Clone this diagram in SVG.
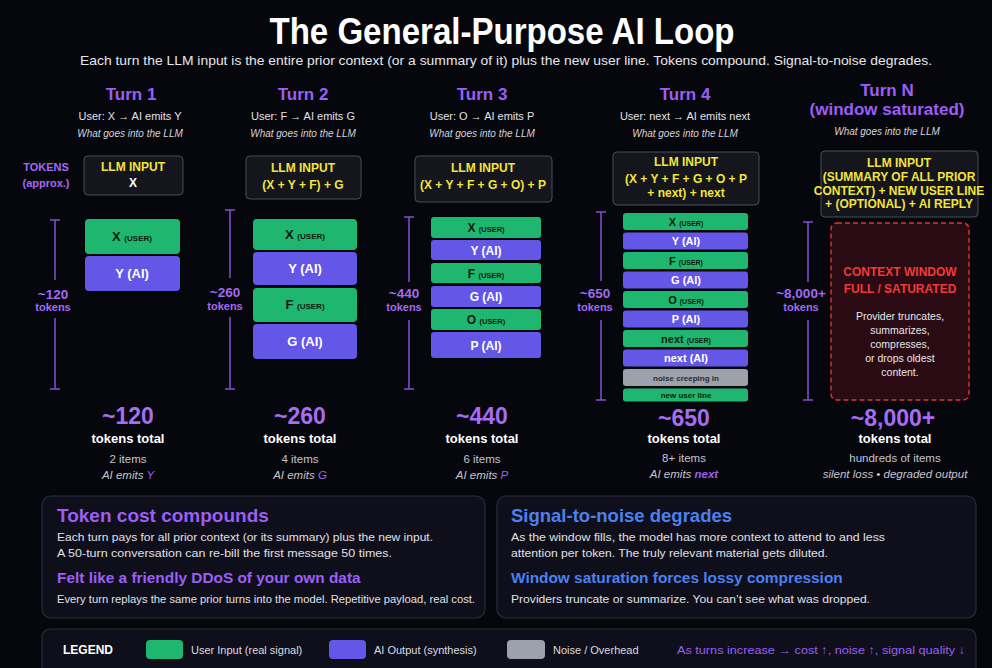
<svg xmlns="http://www.w3.org/2000/svg" width="992" height="668" viewBox="0 0 992 668">
<style>
text{font-family:"Liberation Sans",Arial,sans-serif}
.title{font-size:36px;font-weight:bold;fill:#fff}
.subtitle{font-size:13.5px;fill:#e6e6ea}
.turn{font-size:17px;font-weight:bold;fill:#9c5ef4}
.sub{font-size:11px;fill:#e2e2e6}
.what{font-size:10px;font-style:italic;fill:#d4d4da}
.llmbox{fill:#15161d;stroke:#4b4c57;stroke-width:1}
.llm{font-size:12px;font-weight:bold;fill:#f2e43c}
.llmw{font-size:12px;font-weight:bold;fill:#fff}
.user{fill:#1fb76f}
.ai{fill:#6456e6}
.noise{fill:#9ca1ab}
.ut{font-weight:bold;fill:#0c1a12}
.at{font-weight:bold;fill:#fff}
.nt{font-weight:bold;fill:#2a2d33}
.br{stroke:#8450d2;stroke-width:1.5;fill:none}
.tk{font-size:13.5px;font-weight:bold;fill:#a469f2}
.tk2{font-size:11px;font-weight:bold;fill:#a469f2}
.big{font-size:23px;font-weight:bold;fill:#a66cf4}
.tt{font-size:13px;font-weight:bold;fill:#fff}
.items{font-size:11.5px;fill:#c4c4cc}
.emit{font-size:11.5px;font-style:italic;fill:#c4c4cc}
.emk{fill:#9c5ef4}
.panel{fill:#0e0f1b;stroke:#2b2d3d;stroke-width:1.2}
.ph{font-size:19px;font-weight:bold;fill:#9c5ef4}
.ph2{font-size:15.4px;font-weight:bold;fill:#9c5ef4}
.bh{font-size:18.5px;font-weight:bold;fill:#4d80ee}
.bh2{font-size:15.4px;font-weight:bold;fill:#4d80ee}
.body{font-size:11.5px;fill:#e0e0e6}
.lg{font-size:11px;fill:#dcdce2}
</style>
<rect width="992" height="668" fill="#06060d"/>

<text class="title" x="502" y="44" text-anchor="middle" textLength="465" lengthAdjust="spacingAndGlyphs">The General-Purpose AI Loop</text>
<text class="subtitle" x="506" y="65" text-anchor="middle" textLength="852" lengthAdjust="spacingAndGlyphs">Each turn the LLM input is the entire prior context (or a summary of it) plus the new user line. Tokens compound. Signal-to-noise degrades.</text>

<g id="tokens-label">
<text class="tk2" x="46" y="171" text-anchor="middle">TOKENS</text>
<text class="tk2" x="46" y="187" text-anchor="middle" font-weight="normal">(approx.)</text>
</g>

<g id="turn1">
<text class="turn" x="131" y="100" text-anchor="middle">Turn 1</text>
<text class="sub" x="130" y="120" text-anchor="middle">User: X → AI emits Y</text>
<text class="what" x="130" y="137" text-anchor="middle">What goes into the LLM</text>
<rect class="llmbox" x="84" y="156" width="99" height="39" rx="4"/>
<text class="llm" x="133" y="171" text-anchor="middle">LLM INPUT</text>
<text class="llmw" x="133" y="187" text-anchor="middle">X</text>
<rect class="user" x="85" y="219" width="95" height="35" rx="4"/>
<text class="ut" x="132" y="241" text-anchor="middle" font-size="13">X <tspan font-size="8">(USER)</tspan></text>
<rect class="ai" x="85" y="256" width="95" height="35" rx="4"/>
<text class="at" x="132" y="278" text-anchor="middle" font-size="13">Y (AI)</text>
<text class="big" x="128" y="424" text-anchor="middle">~120</text>
<text class="tt" x="128" y="443" text-anchor="middle">tokens total</text>
<text class="items" x="128" y="463" text-anchor="middle">2 items</text>
<text class="emit" x="128" y="479" text-anchor="middle">AI emits <tspan class="emk">Y</tspan></text>
</g>

<g id="turn2">
<text class="turn" x="303" y="100" text-anchor="middle">Turn 2</text>
<text class="sub" x="303" y="120" text-anchor="middle">User: F → AI emits G</text>
<text class="what" x="303" y="137" text-anchor="middle">What goes into the LLM</text>
<rect class="llmbox" x="246" y="156" width="115" height="43" rx="4"/>
<text class="llm" x="303" y="172" text-anchor="middle">LLM INPUT</text>
<text class="llm" x="303" y="189" text-anchor="middle">(X + Y + F) + G</text>
<rect class="user" x="253" y="219" width="104" height="31" rx="4"/>
<text class="ut" x="305" y="239" text-anchor="middle" font-size="13">X <tspan font-size="8">(USER)</tspan></text>
<rect class="ai" x="253" y="252" width="104" height="33" rx="4"/>
<text class="at" x="305" y="273" text-anchor="middle" font-size="13">Y (AI)</text>
<rect class="user" x="253" y="288" width="104" height="34" rx="4"/>
<text class="ut" x="305" y="309" text-anchor="middle" font-size="13">F <tspan font-size="8">(USER)</tspan></text>
<rect class="ai" x="253" y="324" width="104" height="35" rx="4"/>
<text class="at" x="305" y="346" text-anchor="middle" font-size="13">G (AI)</text>
<text class="big" x="300" y="424" text-anchor="middle">~260</text>
<text class="tt" x="300" y="443" text-anchor="middle">tokens total</text>
<text class="items" x="300" y="463" text-anchor="middle">4 items</text>
<text class="emit" x="300" y="479" text-anchor="middle">AI emits <tspan class="emk">G</tspan></text>
</g>

<g id="turn3">
<text class="turn" x="482" y="100" text-anchor="middle">Turn 3</text>
<text class="sub" x="482" y="120" text-anchor="middle">User: O → AI emits P</text>
<text class="what" x="482" y="137" text-anchor="middle">What goes into the LLM</text>
<rect class="llmbox" x="415" y="156" width="137" height="46" rx="4"/>
<text class="llm" x="483" y="172" text-anchor="middle">LLM INPUT</text>
<text class="llm" x="483" y="189" text-anchor="middle">(X + Y + F + G + O) + P</text>
<rect class="user" x="431" y="217" width="110" height="21" rx="3"/>
<text class="ut" x="486" y="232" text-anchor="middle" font-size="12">X <tspan font-size="7.5">(USER)</tspan></text>
<rect class="ai" x="431" y="240" width="110" height="20" rx="3"/>
<text class="at" x="486" y="255" text-anchor="middle" font-size="12">Y (AI)</text>
<rect class="user" x="431" y="263" width="110" height="20" rx="3"/>
<text class="ut" x="486" y="278" text-anchor="middle" font-size="12">F <tspan font-size="7.5">(USER)</tspan></text>
<rect class="ai" x="431" y="286" width="110" height="21" rx="3"/>
<text class="at" x="486" y="301" text-anchor="middle" font-size="12">G (AI)</text>
<rect class="user" x="431" y="309" width="110" height="21" rx="3"/>
<text class="ut" x="486" y="324" text-anchor="middle" font-size="12">O <tspan font-size="7.5">(USER)</tspan></text>
<rect class="ai" x="431" y="332" width="110" height="26" rx="3"/>
<text class="at" x="486" y="350" text-anchor="middle" font-size="12">P (AI)</text>
<text class="big" x="482" y="424" text-anchor="middle">~440</text>
<text class="tt" x="482" y="443" text-anchor="middle">tokens total</text>
<text class="items" x="482" y="463" text-anchor="middle">6 items</text>
<text class="emit" x="482" y="479" text-anchor="middle">AI emits <tspan class="emk">P</tspan></text>
</g>

<g id="turn4">
<text class="turn" x="685" y="100" text-anchor="middle">Turn 4</text>
<text class="sub" x="685" y="120" text-anchor="middle">User: next → AI emits next</text>
<text class="what" x="685" y="137" text-anchor="middle">What goes into the LLM</text>
<rect class="llmbox" x="613" y="152" width="146" height="53" rx="4"/>
<text class="llm" x="686" y="166" text-anchor="middle">LLM INPUT</text>
<text class="llm" x="686" y="183" text-anchor="middle">(X + Y + F + G + O + P</text>
<text class="llm" x="686" y="197" text-anchor="middle">+ next) + next</text>
<rect class="user" x="623" y="213" width="125" height="17" rx="3"/>
<text class="ut" x="686" y="225.5" text-anchor="middle" font-size="11">X <tspan font-size="7">(USER)</tspan></text>
<rect class="ai" x="623" y="232.5" width="125" height="17" rx="3"/>
<text class="at" x="686" y="245" text-anchor="middle" font-size="11">Y (AI)</text>
<rect class="user" x="623" y="252" width="125" height="17" rx="3"/>
<text class="ut" x="686" y="264.5" text-anchor="middle" font-size="11">F <tspan font-size="7">(USER)</tspan></text>
<rect class="ai" x="623" y="271.5" width="125" height="17" rx="3"/>
<text class="at" x="686" y="284" text-anchor="middle" font-size="11">G (AI)</text>
<rect class="user" x="623" y="291" width="125" height="17" rx="3"/>
<text class="ut" x="686" y="303.5" text-anchor="middle" font-size="11">O <tspan font-size="7">(USER)</tspan></text>
<rect class="ai" x="623" y="310.5" width="125" height="17" rx="3"/>
<text class="at" x="686" y="323" text-anchor="middle" font-size="11">P (AI)</text>
<rect class="user" x="623" y="330" width="125" height="17" rx="3"/>
<text class="ut" x="686" y="342.5" text-anchor="middle" font-size="11">next <tspan font-size="7">(USER)</tspan></text>
<rect class="ai" x="623" y="349.5" width="125" height="17" rx="3"/>
<text class="at" x="686" y="362" text-anchor="middle" font-size="11">next (AI)</text>
<rect class="noise" x="623" y="369" width="125" height="17" rx="3"/>
<text class="nt" x="686" y="381" text-anchor="middle" font-size="8">noise creeping in</text>
<rect class="user" x="623" y="388.5" width="125" height="13" rx="3"/>
<text class="ut" x="686" y="398" text-anchor="middle" font-size="8">new user line</text>
<text class="big" x="684" y="426" text-anchor="middle">~650</text>
<text class="tt" x="684" y="443" text-anchor="middle">tokens total</text>
<text class="items" x="684" y="462" text-anchor="middle">8+ items</text>
<text class="emit" x="684" y="478" text-anchor="middle">AI emits <tspan class="emk" font-weight="bold">next</tspan></text>
</g>

<g id="turnN">
<text class="turn" x="887" y="96" text-anchor="middle">Turn N</text>
<text class="turn" x="887" y="115" text-anchor="middle" font-size="12.5" font-weight="normal">(window saturated)</text>
<text class="what" x="887" y="135" text-anchor="middle">What goes into the LLM</text>
<rect class="llmbox" x="821" y="151" width="157" height="66" rx="4"/>
<text class="llm" x="899" y="167" text-anchor="middle" font-size="11.5">LLM INPUT</text>
<text class="llm" x="899" y="181" text-anchor="middle" font-size="10.5">(SUMMARY OF ALL PRIOR</text>
<text class="llm" x="899" y="195" text-anchor="middle" font-size="10.5">CONTEXT) + NEW USER LINE</text>
<text class="llm" x="899" y="208" text-anchor="middle" font-size="10.5">+ (OPTIONAL) + AI REPLY</text>
<rect x="831" y="223" width="138" height="177" rx="6" fill="#2a0b13" stroke="#e0302f" stroke-width="1.5" stroke-dasharray="5 3"/>
<text x="900" y="276" text-anchor="middle" font-size="12" font-weight="bold" fill="#f2393a">CONTEXT WINDOW</text>
<text x="900" y="293" text-anchor="middle" font-size="12" font-weight="bold" fill="#f2393a">FULL / SATURATED</text>
<text x="900" y="320" text-anchor="middle" font-size="10.5" fill="#e6e6ea">Provider truncates,</text>
<text x="900" y="334" text-anchor="middle" font-size="10.5" fill="#e6e6ea">summarizes,</text>
<text x="900" y="348" text-anchor="middle" font-size="10.5" fill="#e6e6ea">compresses,</text>
<text x="900" y="362" text-anchor="middle" font-size="10.5" fill="#e6e6ea">or drops oldest</text>
<text x="900" y="376" text-anchor="middle" font-size="10.5" fill="#e6e6ea">content.</text>
<text class="big" x="893" y="426" text-anchor="middle">~8,000+</text>
<text class="tt" x="895" y="443" text-anchor="middle">tokens total</text>
<text class="items" x="895" y="462" text-anchor="middle">hundreds of items</text>
<text class="emit" x="895" y="478" text-anchor="middle">silent loss • degraded output</text>
</g>

<g id="connectors">
<path class="br" d="M50 220h10M55 220V280M55 318V389M50 389h10"/>
<path class="br" d="M225 210h10M230 210V278M230 317V389M225 389h10"/>
<path class="br" d="M404 217h10M409 217V282M409 320V389M404 389h10"/>
<path class="br" d="M596 212h10M601 212V281M601 320V400M596 400h10"/>
<path class="br" d="M803 222h10M808 222V282M808 320V400M803 400h10"/>
<text class="tk" x="53" y="299" text-anchor="middle">~120</text>
<text class="tk2" x="53" y="311" text-anchor="middle">tokens</text>
<text class="tk" x="225" y="297" text-anchor="middle">~260</text>
<text class="tk2" x="225" y="310" text-anchor="middle">tokens</text>
<text class="tk" x="404" y="298" text-anchor="middle">~440</text>
<text class="tk2" x="404" y="311" text-anchor="middle">tokens</text>
<text class="tk" x="595" y="298" text-anchor="middle">~650</text>
<text class="tk2" x="595" y="311" text-anchor="middle">tokens</text>
<text class="tk" x="801" y="298" text-anchor="middle">~8,000+</text>
<text class="tk2" x="801" y="311" text-anchor="middle">tokens</text>
</g>

<g id="panel-cost">
<rect class="panel" x="42" y="496" width="443" height="122" rx="9"/>
<text class="ph" x="57" y="522">Token cost compounds</text>
<text class="body" x="57" y="541" textLength="376" lengthAdjust="spacingAndGlyphs">Each turn pays for all prior context (or its summary) plus the new input.</text>
<text class="body" x="57" y="557" textLength="335" lengthAdjust="spacingAndGlyphs">A 50-turn conversation can re-bill the first message 50 times.</text>
<text class="ph2" x="57" y="583">Felt like a friendly DDoS of your own data</text>
<text class="body" x="57" y="603" textLength="418" lengthAdjust="spacingAndGlyphs">Every turn replays the same prior turns into the model. Repetitive payload, real cost.</text>
</g>

<g id="panel-signal">
<rect class="panel" x="497" y="496" width="479" height="122" rx="9" fill="#0c1020"/>
<text class="bh" x="511" y="522">Signal-to-noise degrades</text>
<text class="body" x="511" y="541" textLength="374" lengthAdjust="spacingAndGlyphs">As the window fills, the model has more context to attend to and less</text>
<text class="body" x="511" y="557" textLength="317" lengthAdjust="spacingAndGlyphs">attention per token. The truly relevant material gets diluted.</text>
<text class="bh2" x="511" y="583">Window saturation forces lossy compression</text>
<text class="body" x="511" y="603" textLength="359" lengthAdjust="spacingAndGlyphs">Providers truncate or summarize. You can’t see what was dropped.</text>
</g>

<g id="legend">
<rect class="panel" x="42" y="629" width="934" height="48" rx="8"/>
<text x="63" y="654" font-size="12" font-weight="bold" fill="#fff">LEGEND</text>
<rect class="user" x="146" y="640" width="37" height="19" rx="4"/>
<text class="lg" x="191" y="654">User Input (real signal)</text>
<rect class="ai" x="329" y="640" width="37" height="19" rx="4"/>
<text class="lg" x="374" y="654">AI Output (synthesis)</text>
<rect class="noise" x="507" y="640" width="38" height="19" rx="4"/>
<text class="lg" x="553" y="654">Noise / Overhead</text>
<text x="677" y="654" font-size="11.5" fill="#9c5ef4" textLength="288" lengthAdjust="spacingAndGlyphs">As turns increase → cost ↑, noise ↑, signal quality ↓</text>
</g>
</svg>
